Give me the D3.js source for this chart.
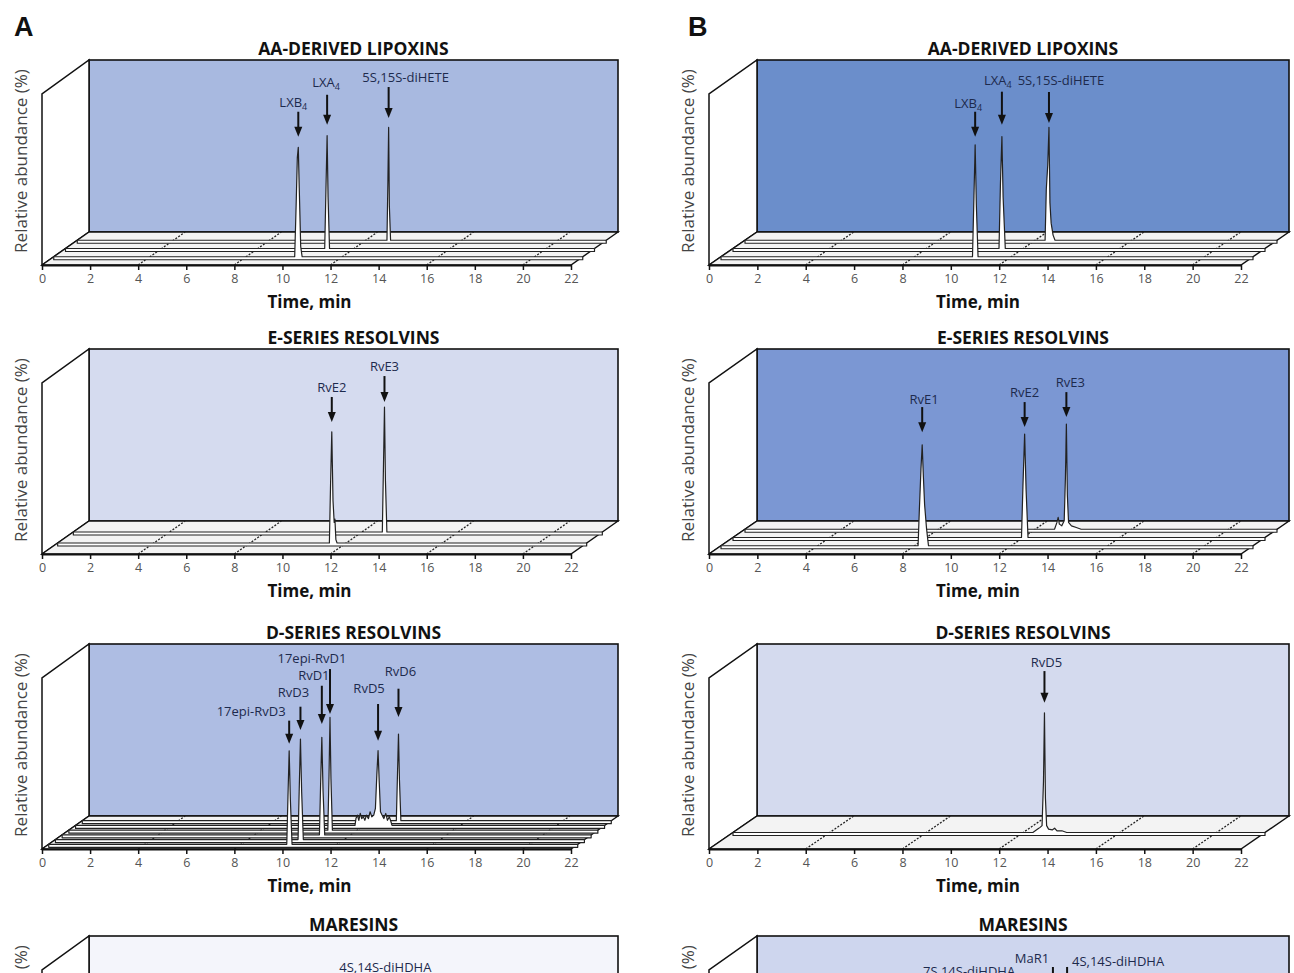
<!DOCTYPE html>
<html>
<head>
<meta charset="utf-8">
<script src="https://cdn.jsdelivr.net/npm/d3@7"></script>
<style>
body { margin: 0; background: #fff; }
svg { display: block; font-family: "Open Sans", sans-serif; }
</style>
</head>
<body>
<svg id="fig" width="1294" height="973"></svg>
<script>
var timeTicks = [0, 2, 4, 6, 8, 10, 12, 14, 16, 18, 20, 22];
var dottedTicks = [4, 8, 12, 16, 20];
var rowTitles = ["AA-DERIVED LIPOXINS", "E-SERIES RESOLVINS", "D-SERIES RESOLVINS", "MARESINS"];
var wallColorsA = ["#a8b9e0", "#d5dbef", "#aebde3", "#f4f5fb"];
var wallColorsB = ["#6b8ecb", "#7b97d3", "#d4daee", "#ced6ee"];

// traces: [time (min), relative abundance (%)], front lane first
var lipoxinsA = [
    [[0, 0], [10.02, 0], [10.08, 30], [10.13, 58], [10.17, 64], [10.21, 40], [10.27, 6], [10.33, 0], [22, 0]],
    [[0, 0], [10.78, 0], [10.84, 40], [10.88, 66], [10.92, 30], [10.98, 0], [22, 0]],
    [[0, 0], [12.88, 0], [12.92, 35], [12.95, 66], [12.98, 20], [13.03, 0], [22, 0]]
];
var lipoxinsB = [
    [[0, 0], [10.4, 0], [10.46, 35], [10.51, 65.5], [10.56, 30], [10.63, 0], [22, 0]],
    [[0, 0], [11.0, 0], [11.06, 38], [11.12, 65.5], [11.17, 30], [11.26, 0], [22, 0]],
    [[0, 0], [12.41, 0], [12.46, 30], [12.52, 44], [12.57, 66], [12.61, 22], [12.66, 10], [12.74, 3], [12.82, 0], [22, 0]]
];
var eSeriesA = [
    [[0, 0], [11.3, 0], [11.35, 35], [11.4, 65], [11.45, 25], [11.5, 12], [11.53, 14], [11.57, 2], [11.62, 0], [22, 0]],
    [[0, 0], [12.85, 0], [12.9, 40], [12.94, 73], [12.98, 30], [13.04, 0], [22, 0]]
];
var eSeriesB = [
    [[0, 0], [8.15, 0], [8.2, 20], [8.27, 45], [8.32, 59], [8.37, 40], [8.42, 24], [8.5, 10], [8.58, 0], [22, 0]],
    [[0, 0], [11.93, 0], [11.99, 30], [12.06, 60.5], [12.12, 28], [12.2, 0], [22, 0]],
    [[0, 0], [12.8, 0], [12.9, 4], [12.95, 7], [13.0, 3], [13.1, 2], [13.2, 5], [13.25, 30], [13.29, 61.5], [13.33, 20], [13.38, 4], [13.5, 2], [13.7, 1], [13.9, 0], [22, 0]]
];
var dSeriesA = [
    [[0, 0], [9.9, 0], [9.95, 28], [10.0, 54.7], [10.05, 26], [10.12, 0], [22, 0]],
    [[0, 0], [10.09, 0], [10.14, 30], [10.19, 58.8], [10.24, 28], [10.31, 0], [22, 0]],
    [[0, 0], [10.7, 0], [10.75, 30], [10.8, 57], [10.85, 26], [10.92, 0], [22, 0]],
    [[0, 0], [10.77, 0], [10.82, 32], [10.86, 65.9], [10.9, 30], [10.96, 0], [22, 0]],
    [[0, 0], [11.62, 0], [11.66, 4], [11.72, 6], [11.78, 3], [11.84, 7], [11.9, 4], [11.97, 5], [12.03, 3], [12.1, 6], [12.18, 4], [12.25, 8], [12.32, 5], [12.4, 6], [12.47, 10], [12.53, 30], [12.58, 43.7], [12.63, 25], [12.68, 8], [12.75, 6], [12.82, 4], [12.9, 7], [12.97, 3], [13.05, 5], [13.12, 2], [13.16, 0], [22, 0]],
    [[0, 0], [13.06, 0], [13.11, 28], [13.15, 50.7], [13.19, 24], [13.25, 0], [22, 0]]
];
var dSeriesB = [
    [[0, 0], [12.4, 0], [12.5, 1], [12.6, 2], [12.7, 3], [12.78, 4], [12.84, 30], [12.88, 70], [12.92, 20], [12.97, 4], [13.05, 2], [13.2, 1.5], [13.3, 2.5], [13.4, 1], [13.6, 1], [13.8, 0], [22, 0]]
];
var maresinsA = [
    [[0, 0], [13.2, 0], [13.25, 30], [13.3, 60], [13.35, 25], [13.42, 0], [22, 0]]
];
var maresinsB = [
    [[0, 0], [10.8, 0], [10.84, 30], [10.88, 60], [10.92, 25], [10.98, 0], [22, 0]],
    [[0, 0], [13.15, 0], [13.19, 30], [13.23, 60], [13.27, 25], [13.33, 0], [22, 0]],
    [[0, 0], [13.25, 0], [13.29, 30], [13.32, 60], [13.36, 25], [13.42, 0], [22, 0]]
];

// labels: name, subscript, trace, label centre / arrow tail / arrow tip (%), label shift (px)
var lipoxinsALabels = [
    ["LXB", "4", 0, 90.6, 84.8, 70.2, -5],
    ["LXA", "4", 1, 97.5, 89.9, 72.4, -1],
    ["5S,15S-diHETE", "", 2, 95.5, 89.6, 71.5, 17]
];
var lipoxinsBLabels = [
    ["LXB", "4", 0, 90, 84.8, 70.2, -7],
    ["LXA", "4", 1, 98.7, 91.7, 72.4, -4],
    ["5S,15S-diHETE", "", 2, 93.7, 86.7, 68.6, 12]
];
var eSeriesALabels = [
    ["RvE2", "", 0, 91.2, 85.4, 70.8, 0],
    ["RvE3", "", 1, 97.1, 91.2, 76, 0]
];
var eSeriesBLabels = [
    ["RvE1", "", 0, 85.8, 81.1, 66.4, 2],
    ["RvE2", "", 1, 85.1, 79.2, 64.6, 0],
    ["RvE3", "", 2, 86.1, 80.2, 65.6, 4]
];
var dSeriesALabels = [
    ["17epi-RvD3", "", 0, 78.1, 72.3, 58.8, -38],
    ["RvD3", "", 1, 86.1, 77.7, 64.1, -7],
    ["RvD1", "", 2, 93.7, 87.2, 64.9, -8],
    ["17epi-RvD1", "", 3, 100.6, 94.2, 67.9, -18],
    ["RvD5", "", 4, 80.5, 71, 49.5, -9],
    ["RvD6", "", 5, 87.7, 77.2, 60.6, 2]
];
var dSeriesBLabels = [
    ["RvD5", "", 0, 99.6, 94.4, 75.9, 2]
];
var maresinsALabels = [
    ["4S,14S-diHDHA", "", 0, 92.1, 84, 70, 0]
];
var maresinsBLabels = [
    ["7S,14S-diHDHA", "", 0, 94.6, 88, 72, -15],
    ["MaR1", "", 1, 97.4, 92.1, 76, -21],
    ["4S,14S-diHDHA", "", 2, 90.8, 87.3, 72, 51]
];

var svg = d3.select("#fig");
var figH = +svg.attr("height");
var columns = [
    { x0: 42, w: 529, dx: 47, letter: "A", lx: 14 },
    { x0: 709, w: 532, dx: 48, letter: "B", lx: 688 }
];
var rowTops = [60, 349, 644, 936];
var depthY = 33;

function drawPanel(col, row, traces, labels, fill) {
    var top = rowTops[row],
        front = top + 205,
        back = front - depthY,
        nL = traces.length + 1;
    var x = d3.scaleLinear().domain([0, 22]).range([col.x0, col.x0 + col.w]);
    var y = d3.scaleLinear().domain([0, 100]).range([0, 171]);
    var px = function(t, f) { return x(t) + col.dx * f; };
    var py = function(v, f) { return front - depthY * f - y(v); };
    var g = svg.append("g");

    g.append("text")
        .attr("x", x(0) + col.dx + col.w / 2)
        .attr("y", top - 5)
        .attr("text-anchor", "middle")
        .attr("font-weight", "bold")
        .attr("font-size", 17.5)
        .attr("fill", "#111")
        .text(rowTitles[row]);

    g.append("rect")
        .attr("x", x(0) + col.dx)
        .attr("y", top)
        .attr("width", col.w)
        .attr("height", back - top)
        .attr("fill", fill)
        .attr("stroke", "#111")
        .attr("stroke-width", 1.6);

    g.append("path")
        .attr("d", "M" + x(0) + "," + front + "V" + (front - 171) + "L" + (x(0) + col.dx) + "," + top +
            "V" + back + "Z")
        .attr("fill", "#fff")
        .attr("stroke", "#111")
        .attr("stroke-width", 1.5);

    g.append("path")
        .attr("d", "M" + x(0) + "," + front + "H" + x(22) + "L" + (x(22) + col.dx) + "," + back +
            "H" + (x(0) + col.dx) + "Z")
        .attr("fill", "#f3f3f3")
        .attr("stroke", "#111")
        .attr("stroke-width", 1.4);

    g.selectAll(".dot")
        .data(dottedTicks)
        .enter().append("line")
        .attr("x1", function(d) { return x(d); })
        .attr("y1", front)
        .attr("x2", function(d) { return x(d) + col.dx; })
        .attr("y2", back)
        .attr("stroke", "#222")
        .attr("stroke-width", 1.3)
        .attr("stroke-dasharray", "2,1.5");

    for (var i = traces.length - 1; i >= 0; i--) {
        var f = (i + 1) / nL;
        var area = d3.area()
            .x(function(d) { return px(d[0], f); })
            .y0(function() { return py(0, f) + 3; })
            .y1(function(d) { return py(d[1], f); });
        g.append("path")
            .datum(traces[i])
            .attr("d", area)
            .attr("fill", "#fff")
            .attr("stroke", "#222")
            .attr("stroke-width", 1.2)
            .attr("stroke-linejoin", "round");
    }

    // axis and its texts only where they fall on the page
    if (front + 45 < figH) {
        var axis = g.append("g")
            .attr("transform", "translate(0," + front + ")")
            .call(d3.axisBottom(x).tickValues(timeTicks).tickSize(5).tickSizeOuter(0).tickPadding(4));
        axis.select(".domain").attr("stroke", "#111").attr("stroke-width", 2);
        axis.selectAll(".tick line").attr("stroke", "#111").attr("stroke-width", 1.5);
        axis.selectAll(".tick text")
            .attr("font-family", "Open Sans")
            .attr("font-size", 12.5)
            .attr("fill", "#555");

        g.append("text")
            .attr("x", (x(0) + x(22)) / 2 + 3)
            .attr("y", front + 43)
            .attr("text-anchor", "middle")
            .attr("font-weight", "bold")
            .attr("font-size", 17)
            .attr("fill", "#111")
            .text("Time, min");
    }

    g.append("text")
        .attr("transform", "translate(" + (x(0) - 21) + "," + (top + 101) + ") rotate(-90)")
        .attr("text-anchor", "middle")
        .attr("dy", "0.35em")
        .attr("font-size", 17)
        .attr("fill", "#444")
        .text("Relative abundance (%)");

    labels.forEach(function(l) {
        var f = (l[2] + 1) / nL;
        var peak = d3.greatest(traces[l[2]], function(d) { return d[1]; });
        var xp = px(peak[0], f),
            tipY = py(l[5], f);
        g.append("line")
            .attr("x1", xp).attr("y1", py(l[4], f))
            .attr("x2", xp).attr("y2", tipY - 7)
            .attr("stroke", "#111")
            .attr("stroke-width", 2);
        g.append("path")
            .attr("d", "M" + (xp - 4) + "," + (tipY - 10) + "L" + (xp + 4) + "," + (tipY - 10) + "L" + xp + "," + tipY + "Z")
            .attr("fill", "#111");
        var t = g.append("text")
            .attr("x", xp + l[6])
            .attr("y", py(l[3], f) + 5)
            .attr("text-anchor", "middle")
            .attr("font-size", 13)
            .attr("fill", "#1d2a4d")
            .text(l[0]);
        if (l[1]) {
            t.append("tspan").attr("font-size", 9).attr("dy", 3).text(l[1]);
        }
    });
}

columns.forEach(function(c) {
    svg.append("text")
        .attr("x", c.lx)
        .attr("y", 36)
        .attr("font-family", "Liberation Sans, Arial, sans-serif")
        .attr("font-weight", "bold")
        .attr("font-size", 27)
        .attr("fill", "#111")
        .text(c.letter);
});

drawPanel(columns[0], 0, lipoxinsA, lipoxinsALabels, wallColorsA[0]);
drawPanel(columns[1], 0, lipoxinsB, lipoxinsBLabels, wallColorsB[0]);
drawPanel(columns[0], 1, eSeriesA, eSeriesALabels, wallColorsA[1]);
drawPanel(columns[1], 1, eSeriesB, eSeriesBLabels, wallColorsB[1]);
drawPanel(columns[0], 2, dSeriesA, dSeriesALabels, wallColorsA[2]);
drawPanel(columns[1], 2, dSeriesB, dSeriesBLabels, wallColorsB[2]);
drawPanel(columns[0], 3, maresinsA, maresinsALabels, wallColorsA[3]);
drawPanel(columns[1], 3, maresinsB, maresinsBLabels, wallColorsB[3]);
</script>
</body>
</html>
